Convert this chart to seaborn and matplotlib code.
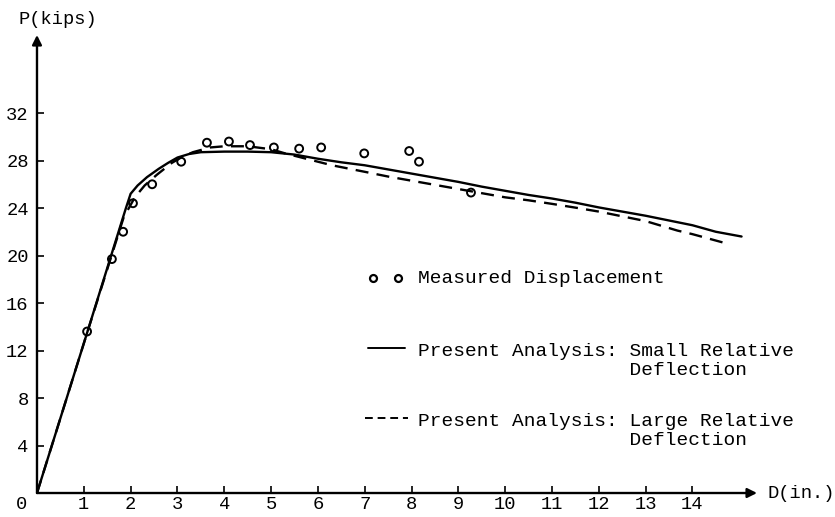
import matplotlib
matplotlib.use("Agg")
import matplotlib.pyplot as plt
import matplotlib.transforms as mtransforms
import seaborn as sns
import pandas as pd

# ---- data ----
measured_d = [1.07, 1.60, 1.84, 2.05, 2.46, 3.08, 3.63, 4.10, 4.55, 5.06, 5.60, 6.07, 6.99, 7.95, 8.16, 9.27]
measured_p = [13.6, 19.7, 22.0, 24.4, 26.0, 27.9, 29.5, 29.6, 29.3, 29.1, 29.0, 29.1, 28.6, 28.8, 27.9, 25.3]

small_d = [0.0, 1.0, 1.9, 2.0, 2.15, 2.35, 2.6, 2.8, 3.0, 3.25, 3.5, 4.0, 4.5, 5.0, 5.5, 6.0,
           6.5, 7.0, 7.5, 8.0, 8.5, 9.0, 9.5, 10.0, 10.5, 11.0, 11.5, 12.0, 12.5, 13.0, 13.5,
           14.0, 14.5, 15.05]
small_p = [0.0, 12.6, 24.0, 25.2, 25.9, 26.6, 27.3, 27.8, 28.25, 28.55, 28.7, 28.75, 28.75, 28.7,
           28.5, 28.15, 27.85, 27.6, 27.25, 26.9, 26.55, 26.2, 25.8, 25.45, 25.1, 24.8, 24.45, 24.05,
           23.7, 23.35, 22.95, 22.55, 22.0, 21.6]

large_d = [0.0, 1.0, 1.85, 2.09, 2.3, 2.56, 2.88, 3.1, 3.33, 3.7, 4.0, 4.5, 5.0, 5.3, 5.6, 6.0,
           6.3, 7.0, 7.5, 8.0, 8.5, 9.0, 9.43, 10.0, 10.5, 11.0, 11.55, 12.0, 12.5, 13.0, 13.68,
           14.0, 14.65]
large_p = [0.0, 12.6, 23.2, 24.9, 25.9, 26.8, 27.8, 28.3, 28.7, 29.1, 29.2, 29.2, 28.95, 28.6,
           28.3, 27.9, 27.6, 27.05, 26.65, 26.3, 25.95, 25.6, 25.3, 24.9, 24.65, 24.35, 24.0, 23.7,
           23.3, 22.9, 22.1, 21.8, 21.1]

x_ticks = list(range(1, 15))
y_ticks = [4, 8, 12, 16, 20, 24, 28, 32]
x_label = "D(in.)"
y_label = "P(kips)"
legend_labels = ["Measured Displacement",
                 "Present Analysis: Small Relative\n                  Deflection",
                 "Present Analysis: Large Relative\n                  Deflection"]

# ---- plotting ----
sns.set_theme(style="white")
plt.rcParams['font.family'] = ['Liberation Mono', 'DejaVu Sans Mono']

fig = plt.figure(figsize=(8.35, 5.17), dpi=100)
ax = fig.add_axes([0.0443, 0.0464, 0.8623, 0.8859])

df_small = pd.DataFrame({"D": small_d, "P": small_p})
df_large = pd.DataFrame({"D": large_d, "P": large_p})
df_meas = pd.DataFrame({"D": measured_d, "P": measured_p})

sns.lineplot(data=df_small, x="D", y="P", ax=ax, color="black", linewidth=1.7,
             sort=False, estimator=None)
sns.lineplot(data=df_large, x="D", y="P", ax=ax, color="black", linewidth=1.7,
             sort=False, estimator=None, linestyle=(0, (5.5, 3.5)))
sns.scatterplot(data=df_meas, x="D", y="P", ax=ax, marker="o", s=32,
                facecolor="none", edgecolor="black", linewidth=1.4, zorder=3)

ax.set_xlim(0, 15.38)
ax.set_ylim(0, 38.57)
for s in ax.spines.values():
    s.set_visible(False)

# axes with arrow heads
arrow_kw = dict(arrowstyle="-|>", lw=1.7, color="black", mutation_scale=14,
                shrinkA=0, shrinkB=0)
ax.annotate("", xy=(1, 0), xytext=(0, 0), xycoords="axes fraction",
            arrowprops=arrow_kw, annotation_clip=False)
ax.annotate("", xy=(0, 1), xytext=(0, 0), xycoords="axes fraction",
            arrowprops=arrow_kw, annotation_clip=False)

ax.set_xticks(x_ticks)
ax.set_xticklabels([str(t) for t in x_ticks])
ax.set_yticks(y_ticks)
ax.set_yticklabels([str(t) for t in y_ticks])
ax.tick_params(axis="both", which="major", direction="in", length=5, width=1.2,
               colors="black", labelsize=13.5, bottom=True, left=True)
ax.tick_params(axis="x", pad=2)
ax.tick_params(axis="y", pad=6)

# origin label "0"
ax.text(-0.33, 0, "0", transform=ax.get_xaxis_transform() +
        mtransforms.ScaledTranslation(0, -2 / 72, fig.dpi_scale_trans),
        ha="center", va="top", fontsize=13.5, color="black")

ax.set_xlabel(x_label, fontsize=13.5, color="black", ha="left", va="center")
ax.xaxis.set_label_coords(1.015, 0.0)
ax.set_ylabel(y_label, fontsize=13.5, color="black", rotation=0, ha="left", va="center")
ax.yaxis.set_label_coords(-0.026, 1.033)

# hand-made legend (legend samples only)
tA = ax.transAxes
ax.plot([0.467, 0.501], [0.469, 0.469], transform=tA, linestyle="none", marker="o",
        markersize=5, markerfacecolor="none", markeredgecolor="black", markeredgewidth=1.6,
        clip_on=False)
ax.text(0.529, 0.469, legend_labels[0], transform=tA, ha="left", va="center",
        fontsize=14, color="black")
ax.plot([0.460, 0.511], [0.317, 0.317], transform=tA, color="black", lw=1.4, clip_on=False)
ax.text(0.529, 0.328, legend_labels[1], transform=tA, ha="left", va="top",
        fontsize=14, color="black", linespacing=1.2)
ax.plot([0.456, 0.515], [0.164, 0.164], transform=tA, color="black", lw=1.4,
        linestyle=(0, (4, 2.5)), clip_on=False)
ax.text(0.529, 0.175, legend_labels[2], transform=tA, ha="left", va="top",
        fontsize=14, color="black", linespacing=1.2)

fig.savefig("out.png", dpi=100)
